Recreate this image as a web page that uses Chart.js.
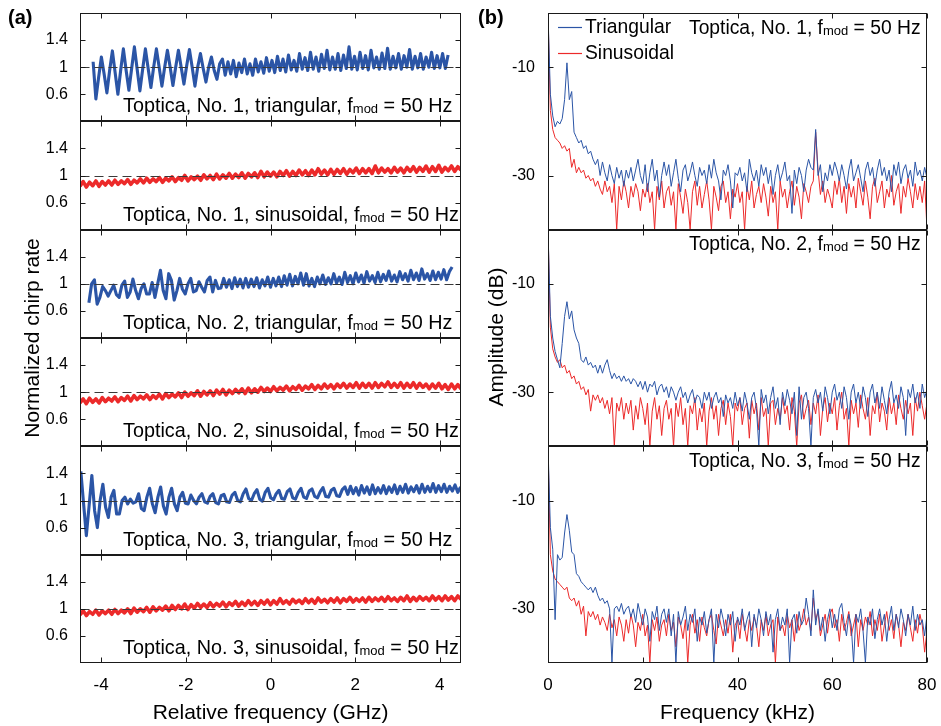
<!DOCTYPE html>
<html>
<head>
<meta charset="utf-8">
<title>Chirp rate and spectra</title>
<script src="https://cdn.jsdelivr.net/npm/chart.js@4.4.1/dist/chart.umd.min.js"></script>
<style>
  body { margin: 0; background: #fff; }
  #wrap { position: relative; width: 941px; height: 726px; }
  #left { position: absolute; left: 0; top: 0; width: 470px; height: 726px; }
  #right { position: absolute; left: 470px; top: 0; width: 471px; height: 726px; }
</style>
</head>
<body>
<div id="wrap">
  <canvas id="left" width="470" height="726"></canvas>
  <canvas id="right" width="471" height="726"></canvas>
</div>
<script>
const FONT = "'Liberation Sans', Arial, Helvetica, sans-serif";
const ink = '#1a1a1a';
const blue = '#2b55a6';
const red = '#ec2a2a';
const TICK = 5;

// ---- (a) normalized chirp rate vs relative frequency (GHz) ----
const xTicksGHz = [-4, -2, 0, 2, 4];
const yTicksChirp = [0.6, 1, 1.4];
const triStep = 0.065;
const sinStep = 0.075;

const tri1Start = -4.19;
const tri1 = [
  1.08, 0.53, 0.85, 1.15, 0.9, 0.62, 0.95, 1.24, 0.92, 0.6,
  0.95, 1.27, 0.95, 0.66, 0.98, 1.3, 0.97, 0.65, 0.97, 1.27,
  0.98, 0.7, 1.0, 1.27, 1.0, 0.72, 1.0, 1.25, 1.0, 0.73,
  1.0, 1.25, 1.0, 0.75, 1.02, 1.26, 1.0, 0.72, 1.0, 1.2,
  0.98, 0.78, 1.0, 1.15, 0.95, 0.82, 1.05, 1.12,
  0.88, 1.08, 0.9, 1.1, 0.86, 1.06, 0.92, 1.12, 0.9, 1.05,
  0.88, 1.12, 0.93, 1.08, 0.91, 1.14, 0.94, 1.1, 0.92, 1.16,
  0.95, 1.12, 0.93, 1.18, 0.96, 1.1, 0.94, 1.2, 0.97, 1.14,
  0.95, 1.22, 0.97, 1.15, 0.94, 1.19, 0.98, 1.25, 0.96, 1.15,
  0.97, 1.2, 0.95, 1.18, 0.98, 1.3, 0.97, 1.16, 0.96, 1.22,
  0.98, 1.17, 0.96, 1.25, 0.99, 1.15, 0.97, 1.21, 0.98, 1.28,
  0.97, 1.16, 0.99, 1.2, 0.97, 1.17, 1.0, 1.26, 0.97, 1.16,
  0.99, 1.2, 0.97, 1.15, 1.0, 1.22, 0.98, 1.17, 0.99, 1.2,
  0.98, 1.18
];

const sin1Start = -4.5;
const sin1 = [
  0.84, 0.91, 0.83, 0.9, 0.85, 0.92, 0.84, 0.91, 0.86, 0.92,
  0.86, 0.93, 0.87, 0.92, 0.88, 0.94, 0.87, 0.93, 0.89, 0.95,
  0.89, 0.96, 0.9, 0.95, 0.91, 0.97, 0.9, 0.96, 0.92, 0.98,
  0.91, 0.97, 0.93, 1.0, 0.92, 0.98, 0.94, 0.99, 0.93, 1.01,
  0.95, 1.0, 0.94, 1.02, 0.95, 1.01, 0.96, 1.03, 0.96, 1.02,
  0.97, 1.04, 0.96, 1.03, 0.98, 1.04, 0.97, 1.06, 0.98, 1.05,
  0.99, 1.05, 0.98, 1.06, 1.0, 1.07, 0.99, 1.06, 1.0, 1.08,
  1.01, 1.07, 1.0, 1.08, 1.01, 1.1, 1.02, 1.08, 1.01, 1.09,
  1.02, 1.09, 1.03, 1.1, 1.02, 1.09, 1.04, 1.11, 1.03, 1.1,
  1.04, 1.1, 1.03, 1.14, 1.04, 1.11, 1.05, 1.1, 1.04, 1.12,
  1.05, 1.11, 1.04, 1.12, 1.06, 1.13, 1.05, 1.12, 1.06, 1.14,
  1.05, 1.13, 1.06, 1.15, 1.05, 1.12, 1.07, 1.14, 1.06, 1.13, 1.08
];

const tri2Start = -4.29;
const tri2 = [
  0.72, 1.0, 1.06, 0.7, 0.8, 0.96, 0.9, 0.82, 0.9, 0.98,
  0.84, 0.8, 0.98, 1.04, 0.8, 0.88, 1.07, 0.9, 0.78, 0.93,
  1.0, 0.85, 0.85, 1.02, 0.8, 1.0, 1.2, 0.9, 0.78, 1.15,
  1.05, 0.76, 0.9, 1.08, 0.92, 0.85, 1.0, 1.08, 0.88, 0.9,
  1.03, 0.95, 0.88, 1.05, 1.1, 0.88, 1.05, 0.93,
  0.94, 1.08, 0.95, 1.06, 0.93, 1.09, 0.96, 1.07, 0.94, 1.08,
  0.95, 1.07, 0.96, 1.09, 0.94, 1.06, 0.97, 1.1, 0.95, 1.08,
  0.97, 1.1, 0.96, 1.12, 0.98, 1.14, 0.97, 1.11, 1.0, 1.16,
  0.98, 1.15, 0.97, 1.08, 0.96, 1.1, 1.0, 1.13, 0.99, 1.09,
  1.0, 1.15, 1.01, 1.1, 0.99, 1.17, 1.02, 1.12, 1.0, 1.16,
  1.03, 1.13, 1.01, 1.18, 1.04, 1.12, 1.02, 1.17, 1.03, 1.14,
  1.05, 1.19, 1.04, 1.13, 1.03, 1.18, 1.06, 1.15, 1.04, 1.2,
  1.06, 1.16, 1.05, 1.22, 1.07, 1.15, 1.05, 1.19, 1.06, 1.17,
  1.07, 1.21, 1.06, 1.18, 1.25
];

const sin2Start = -4.5;
const sin2 = [
  0.84, 0.9, 0.83, 0.91, 0.85, 0.9, 0.84, 0.92, 0.86, 0.91,
  0.87, 0.93, 0.86, 0.92, 0.88, 0.94, 0.87, 0.95, 0.89, 0.94,
  0.9, 0.96, 0.89, 0.95, 0.91, 0.97, 0.9, 0.98, 0.92, 0.97,
  0.93, 0.99, 0.92, 1.0, 0.94, 0.99, 0.95, 1.02, 0.94, 1.01,
  0.96, 1.02, 0.95, 1.03, 0.97, 1.04, 0.96, 1.03, 0.98, 1.04,
  0.99, 1.05, 0.98, 1.06, 0.99, 1.05, 1.0, 1.07, 1.01, 1.06,
  1.01, 1.08, 1.02, 1.07, 1.03, 1.09, 1.02, 1.08, 1.04, 1.1,
  1.03, 1.09, 1.05, 1.11, 1.04, 1.1, 1.05, 1.12, 1.06, 1.11,
  1.05, 1.12, 1.07, 1.13, 1.06, 1.12, 1.07, 1.14, 1.06, 1.13,
  1.07, 1.13, 1.06, 1.14, 1.07, 1.13, 1.08, 1.15, 1.07, 1.13,
  1.07, 1.14, 1.06, 1.13, 1.07, 1.14, 1.06, 1.13, 1.07, 1.12,
  1.05, 1.12, 1.06, 1.13, 1.05, 1.11, 1.04, 1.12, 1.05, 1.11, 1.05
];

const tri3Start = -4.48;
const tri3 = [
  1.43, 0.95, 0.48, 0.92, 1.37, 0.85, 0.6, 1.0, 1.24, 0.9,
  0.75, 1.05, 1.15, 0.8, 0.8, 1.0, 1.05, 0.95, 1.02, 0.96,
  0.98, 1.1, 0.88, 0.85, 1.05, 1.18, 0.95, 0.82, 1.05, 1.2,
  0.92, 0.8, 1.05, 1.18, 0.95, 0.85, 1.05, 1.12, 0.96, 0.95,
  1.08,
  1.0, 0.95, 1.05, 1.1, 0.98, 0.96, 1.06, 1.1, 0.97, 0.95,
  1.07, 1.09, 0.98, 0.97, 1.08, 1.12,
  1.0, 0.98, 1.1, 1.17, 1.03, 1.0, 1.1, 1.16, 1.02, 0.99,
  1.12, 1.18, 1.04, 1.01, 1.1, 1.15, 1.03, 1.02, 1.13, 1.17,
  1.04, 1.02, 1.12, 1.18, 1.05, 1.03, 1.14, 1.17, 1.06, 1.04,
  1.13, 1.19, 1.06, 1.05, 1.15, 1.18, 1.07, 1.06, 1.16, 1.2,
  1.09, 1.21, 1.1, 1.19, 1.08, 1.22, 1.11, 1.2, 1.09, 1.23,
  1.1, 1.19, 1.11, 1.22, 1.1, 1.2, 1.12, 1.23, 1.1, 1.21,
  1.12, 1.24, 1.11, 1.2, 1.13, 1.22, 1.11, 1.24, 1.12, 1.21,
  1.13, 1.25, 1.12, 1.22, 1.13, 1.24, 1.12, 1.21, 1.14, 1.23,
  1.12, 1.2
];

const sin3Start = -4.5;
const sin3 = [
  0.91, 0.97, 0.9, 0.96, 0.92, 0.98, 0.91, 0.97, 0.93, 0.98,
  0.92, 0.99, 0.93, 0.98, 0.94, 1.0, 0.93, 1.01, 0.95, 1.0,
  0.96, 1.02, 0.95, 1.03, 0.97, 1.02, 0.98, 1.04, 0.97, 1.05,
  0.99, 1.05, 1.0, 1.07, 0.99, 1.06, 1.01, 1.08, 1.02, 1.07,
  1.02, 1.09, 1.03, 1.08, 1.04, 1.1, 1.03, 1.09, 1.05, 1.11,
  1.04, 1.1, 1.05, 1.12, 1.06, 1.11, 1.05, 1.12, 1.07, 1.13,
  1.06, 1.12, 1.07, 1.15, 1.08, 1.12, 1.07, 1.14, 1.09, 1.13,
  1.08, 1.15, 1.09, 1.14, 1.08, 1.16, 1.1, 1.14, 1.09, 1.15,
  1.1, 1.16, 1.09, 1.15, 1.11, 1.17, 1.1, 1.15, 1.11, 1.16,
  1.1, 1.17, 1.11, 1.16, 1.12, 1.17, 1.11, 1.18, 1.12, 1.16,
  1.11, 1.17, 1.12, 1.19, 1.11, 1.17, 1.12, 1.18, 1.13, 1.17,
  1.12, 1.19, 1.13, 1.18, 1.12, 1.19, 1.13, 1.18, 1.12, 1.19, 1.14
];

const chirpNotes = [
  'Toptica, No. 1, triangular', 'Toptica, No. 1, sinusoidal',
  'Toptica, No. 2, triangular', 'Toptica, No. 2, sinusoidal',
  'Toptica, No. 3, triangular', 'Toptica, No. 3, sinusoidal'
];

// ---- (b) amplitude spectra (dB), 0.5 kHz bins from 0 to 80 kHz ----
const xTicksKHz = [0, 20, 40, 60, 80];
const yTicksDB = [-10, -30];
const specStep = 0.5;

const specTri1 = [
  0, -15, -19, -21, -20, -20.5, -19.5, -16, -9.2, -16,
  -14.5, -22, -23, -24, -23.5, -25, -24.5, -26, -25.5, -27,
  -28, -27, -30, -27.5, -29.5, -31, -28, -30, -31.5, -28.5,
  -30.5, -29, -32, -29, -30.5, -28.5, -31, -29, -27, -30,
  -31.5, -28, -33, -29.5, -27, -31, -29, -34, -30, -27.5,
  -30, -28, -32, -29.5, -27, -30.5, -33, -29, -28, -31,
  -29.5, -27.5, -30, -32, -28.5, -30, -29, -31.5, -28, -30.5,
  -27, -29.5, -31, -34.5, -29, -30, -28, -31, -36, -29.5,
  -30, -28.5, -31, -29.5, -33, -27, -29.5, -31, -29, -32,
  -28, -30, -28.5, -31.5, -29, -33.5, -30, -28, -31, -29.5,
  -27.5, -31, -30, -37, -29, -31.5, -28.5, -30, -33, -29,
  -27, -28.5, -29, -21.5, -30, -28, -33, -29.5, -31, -28,
  -30, -27.5, -29, -31, -28, -30, -32.5, -29, -27, -31,
  -29.5, -28, -30.5, -33, -29, -27.5, -30, -28.5, -32, -29,
  -27, -30, -28.5, -31, -29, -33, -28, -30, -27.5, -31.5,
  -29, -28, -30.5, -29, -32, -27.5, -30, -29, -31, -28.5,
  -30.5
];
const specSin1 = [
  0, -18, -21.5, -23, -23.5, -24, -25, -24.5, -25.5, -25,
  -28.5, -27, -29.5, -28.5, -29.5, -29, -30.5, -30, -31, -30.5,
  -32, -31, -32.5, -33.5, -31, -33, -32, -35, -31.5, -40,
  -32, -34.5, -31, -33, -36, -32, -34, -31.5, -33, -36.5,
  -32.5, -34, -31.5, -35, -33, -40, -32, -34.5, -31, -36,
  -33, -32, -35.5, -33, -40, -31.5, -34, -37, -32.5, -35,
  -40, -33, -31, -35.5, -32, -36, -33.5, -31, -34.5, -40,
  -32, -34, -36.5, -32, -31, -35, -33, -38, -32.5, -34,
  -31.5, -35, -33, -40, -32, -34.5, -31, -36, -33.5, -32,
  -35, -31.5, -34, -37.5, -32, -35, -33, -40, -31, -34,
  -32.5, -36, -33, -31, -35.5, -32, -34, -38, -31.5, -33,
  -35, -32, -31, -22, -29, -33.5, -31, -35, -32.5, -34,
  -36, -31, -33.5, -30.5, -35, -32, -37, -31.5, -34, -32,
  -36, -30.5, -33, -35.5, -31, -34, -38, -32, -30.5, -35,
  -33, -31, -36, -32.5, -34, -30, -35.5, -33, -31.5, -37,
  -32, -34, -30.5, -33, -36, -31.5, -34.5, -32, -35, -31,
  -40
];
const specTri2 = [
  0, -16, -20, -22.5, -24, -25.5, -21, -16, -13.3, -16.5,
  -15, -18.5, -20, -21, -24, -24.5, -23.5, -25, -24.5, -25.5,
  -25, -26.5, -25, -26.5, -25, -24, -26, -27.5, -26.5, -27.5,
  -27, -28, -27, -28, -27.5, -28.5, -27.5, -28, -29, -28,
  -29.5, -28, -30, -28.5, -29, -28, -30.5, -29, -28.5, -30,
  -29, -31, -29, -30, -31.5, -30, -29, -31, -30, -32,
  -30.5, -29.5, -32, -30.5, -31, -33, -30, -31.5, -30, -33,
  -31, -30, -32, -31, -34.5, -30.5, -32, -31, -33, -30,
  -32.5, -31, -33.5, -30, -32, -35, -31, -30, -33, -40,
  -29.5, -32, -30.5, -34, -31, -29, -33, -31, -36, -30,
  -32.5, -29.5, -31.5, -34, -30, -38, -29, -35, -31, -30,
  -33, -40, -31, -29.5, -32, -30, -33.5, -29, -31, -34,
  -30, -28.5, -31.5, -30, -33, -29, -31, -35, -30, -28.5,
  -32, -30, -33, -29, -31, -34.5, -30, -28.5, -32, -30,
  -33, -29, -31.5, -34, -30, -28, -32, -30.5, -33, -29,
  -31, -38, -29.5, -31, -28.5, -32, -30, -33, -28.5, -31,
  -29.5
];
const specSin2 = [
  0, -18, -22, -23.5, -24.5, -24, -25.5, -25, -26.5, -26,
  -27.5, -27, -28.5, -28, -29.5, -29, -30.5, -29.5, -33.5, -30.5,
  -31.5, -30.5, -32, -31, -33, -31.5, -34, -31, -40, -32,
  -33.5, -31, -35, -32, -34, -31.5, -37, -32.5, -35, -31,
  -33, -36, -32, -40, -33.5, -31, -35, -32.5, -38, -33,
  -31.5, -35, -33, -40, -32, -34.5, -31, -36, -33, -40,
  -32.5, -34, -31, -37, -33, -35.5, -32, -40, -33.5, -31,
  -35, -32.5, -38, -33, -31.5, -36, -32, -34.5, -40, -32,
  -33.5, -31, -36, -33, -32, -38.5, -31.5, -34, -32, -37,
  -31, -34.5, -33, -40, -32, -31.5, -36, -33, -35, -31,
  -34, -32.5, -37, -31, -33.5, -40, -32, -30.5, -35, -33,
  -31.5, -36, -32, -34, -30.5, -38, -33, -31, -35.5, -32,
  -34, -31, -37, -32.5, -30, -35, -33, -40, -31.5, -34,
  -32, -36.5, -30.5, -33, -35, -31, -38, -32.5, -34, -30,
  -35.5, -32, -33.5, -37, -31, -34, -32, -36, -30.5, -33,
  -35, -31.5, -34, -32, -38, -31, -33.5, -30, -32.5, -35,
  -32
];
const specTri3 = [
  0, -15, -19, -32, -20, -21, -20.5, -16, -12.6, -15.5,
  -19.5, -20, -23.5, -24, -25, -25.5, -26, -26.5, -26, -27,
  -26, -27.5, -28.5, -28, -29, -28.5, -30, -40, -30, -29.5,
  -30.5, -29, -31, -30, -29.5, -31.5, -30, -32.5, -29, -31,
  -33, -30, -31.5, -36, -30.5, -32, -29.5, -34, -31, -30,
  -32.5, -30, -35, -31, -40, -30.5, -33, -31.5, -29.5, -34,
  -31, -32.5, -30, -36, -31.5, -33, -30.5, -34.5, -32, -30,
  -40, -31, -33.5, -30, -32, -35, -31, -33, -30.5, -36,
  -31.5, -33, -30, -34, -32, -30.5, -37, -31, -33.5, -30,
  -32, -35, -30.5, -33, -31, -38, -32, -30, -34, -31.5,
  -33, -30, -40, -32, -31, -34.5, -30.5, -33, -32, -28,
  -31, -35, -26.5, -33, -30, -34, -31.5, -36, -32, -30,
  -33.5, -31, -34, -30, -29, -32.5, -35, -31, -33, -40,
  -31, -32.5, -30, -34, -40, -31.5, -33, -30, -35.5, -32,
  -30, -33, -31, -36, -32, -29.5, -34, -31, -33.5, -30,
  -32, -35, -31, -33, -29.5, -34, -31, -33, -32, -35,
  -31
];
const specSin3 = [
  0, -20, -23, -24.5, -25, -25.5, -26, -26.5, -26, -28,
  -28.5, -28, -29.5, -28.5, -31, -29.5, -35, -30.5, -31.5, -30.5,
  -32, -31, -33, -31.5, -32.5, -34, -31, -33.5, -32, -35,
  -31.5, -33, -36, -32, -34.5, -31, -33, -37, -32.5, -34,
  -31, -35, -33, -40, -32, -34, -31.5, -36, -33, -32,
  -35, -31, -34, -32.5, -37, -31.5, -33, -35.5, -32, -40,
  -33, -31, -34.5, -32, -36, -31.5, -33.5, -35, -32, -31,
  -34, -36.5, -31, -33, -35, -32, -34.5, -31, -38, -33,
  -32, -35.5, -31, -33.5, -36, -32, -34, -31.5, -33, -37,
  -32, -34, -31, -35, -33, -32, -40, -31.5, -34, -33,
  -35, -31, -33.5, -32, -36, -31, -34, -32.5, -30, -33,
  -31.5, -34, -28, -32, -30.5, -35, -33, -31, -34.5, -31,
  -30, -33.5, -32, -36, -31, -34, -32.5, -30.5, -35, -33,
  -31, -37, -32, -34, -31.5, -33, -30.5, -35, -32, -34,
  -31, -36, -33, -30.5, -34, -32, -35.5, -31, -33, -37,
  -32.5, -34, -31, -33.5, -36, -32, -34.5, -31, -33, -38,
  -34
];

const specNotes = ['Toptica, No. 1', 'Toptica, No. 2', 'Toptica, No. 3'];
const legendLabels = ['Triangular', 'Sinusoidal'];

// turn a uniformly sampled trace into {x, y} points
const toPoints = (x0, dx, vals) => vals.map((v, i) => ({ x: +(x0 + i * dx).toFixed(3), y: v }));

// "<head>, f_mod = 50 Hz" with a small "mod"
function drawNote(ctx, head, x, base, size) {
  const big = size + 'px ' + FONT;
  const small = Math.round(size * 0.65) + 'px ' + FONT;
  ctx.textAlign = 'left';
  ctx.textBaseline = 'alphabetic';
  ctx.fillStyle = '#000';
  ctx.font = big;
  ctx.fillText(head + ', f', x, base);
  x += ctx.measureText(head + ', f').width;
  ctx.font = small;
  ctx.fillText('mod', x, base + 1);
  x += ctx.measureText('mod').width;
  ctx.font = big;
  ctx.fillText(' = 50 Hz', x, base);
}

// box, inward ticks and optional dashed reference for each stacked panel
const framePlugin = {
  id: 'frame',
  afterDatasetsDraw(chart, args, opts) {
    const ctx = chart.ctx;
    const xs = chart.scales.x;
    const L = Math.round(chart.chartArea.left) + 0.5;
    const R = Math.round(chart.chartArea.right) - 0.5;
    ctx.save();
    opts.axes.forEach(id => {
      const ys = chart.scales[id];
      const T = Math.round(ys.top) + 0.5;
      const B = Math.round(ys.bottom) - 0.5;
      if (opts.refLine !== undefined) {
        const y = Math.round(ys.getPixelForValue(opts.refLine)) + 0.5;
        ctx.strokeStyle = '#3a3a3a';
        ctx.lineWidth = 1;
        ctx.setLineDash([9, 5]);
        ctx.beginPath();
        ctx.moveTo(L, y);
        ctx.lineTo(R, y);
        ctx.stroke();
        ctx.setLineDash([]);
      }
      ctx.strokeStyle = ink;
      ctx.lineWidth = 1;
      ctx.strokeRect(L, T, R - L, B - T);
      ctx.beginPath();
      xs.ticks.forEach(t => {
        const x = Math.round(xs.getPixelForValue(t.value)) + 0.5;
        ctx.moveTo(x, T); ctx.lineTo(x, T + TICK);
        ctx.moveTo(x, B); ctx.lineTo(x, B - TICK);
      });
      ys.ticks.forEach(t => {
        const y = Math.round(ys.getPixelForValue(t.value)) + 0.5;
        ctx.moveTo(L, y); ctx.lineTo(L + TICK, y);
        ctx.moveTo(R, y); ctx.lineTo(R - TICK, y);
      });
      ctx.stroke();
    });
    ctx.restore();
  },
  afterDraw(chart, args, opts) {
    const ctx = chart.ctx;
    ctx.save();
    opts.axes.forEach((id, k) => {
      const ys = chart.scales[id];
      const base = opts.noteFromTop ? ys.top + opts.noteOffset : ys.bottom - opts.noteOffset;
      drawNote(ctx, opts.notes[k], opts.noteX, base, opts.noteSize);
    });
    // panel letter
    ctx.font = 'bold 20px ' + FONT;
    ctx.fillStyle = '#000';
    ctx.textAlign = 'left';
    ctx.textBaseline = 'middle';
    ctx.fillText(opts.letter, 8, 18);
    // rotated y title
    ctx.translate(opts.yTitleX, opts.yTitleY);
    ctx.rotate(-Math.PI / 2);
    ctx.font = '21px ' + FONT;
    ctx.textAlign = 'center';
    ctx.textBaseline = 'alphabetic';
    ctx.fillText(opts.yTitle, 0, 0);
    ctx.restore();
  }
};

// legend for the spectra, drawn inside the first panel with each series' own colour
const legendPlugin = {
  id: 'specLegend',
  afterDraw(chart) {
    const ctx = chart.ctx;
    const ys = chart.scales.s0;
    const sets = chart.data.datasets;
    const swatch = [sets[0].borderColor, sets[sets.length - 1].borderColor];
    ctx.save();
    ctx.font = '19.3px ' + FONT;
    ctx.textAlign = 'left';
    ctx.textBaseline = 'middle';
    legendLabels.forEach((label, k) => {
      const y = Math.round(ys.top + 13.5 + k * 26.6) + 0.5;
      ctx.beginPath();
      ctx.strokeStyle = swatch[k];
      ctx.lineWidth = 1.2;
      ctx.moveTo(88, y);
      ctx.lineTo(112, y);
      ctx.stroke();
      ctx.fillStyle = '#000';
      ctx.fillText(label, 115, y);
    });
    ctx.restore();
  }
};

const tickFont = size => ({ size: size, family: FONT });
const noGrid = { display: false, drawTicks: false };
const plainLabel = v => String(v);

function xScale(min, max, ticks, title) {
  return {
    type: 'linear', min: min, max: max, position: 'bottom',
    afterBuildTicks: s => { s.ticks = ticks.map(v => ({ value: v })); },
    afterFit: s => { s.height = 63; s.paddingLeft = 0; s.paddingRight = 0; },
    grid: noGrid, border: { display: false },
    ticks: { font: tickFont(17), color: '#000', padding: 12, maxRotation: 0, callback: plainLabel },
    title: { display: true, text: title, font: tickFont(21), color: '#000', padding: { top: 2, bottom: 0 } }
  };
}

function yScale(min, max, ticks, order, width, pad) {
  return {
    type: 'linear', min: min, max: max, position: 'left',
    stack: 'panels', stackWeight: 1, weight: 20 - order,
    afterBuildTicks: s => { s.ticks = ticks.map(v => ({ value: v })); },
    afterFit: s => { s.width = width; s.paddingTop = 0; s.paddingBottom = 0; },
    grid: noGrid, border: { display: false },
    ticks: { font: tickFont(16), color: '#000', padding: pad, callback: plainLabel }
  };
}

// ---- left column ----
const chirpSeries = [
  { vals: tri1, x0: tri1Start, dx: triStep, color: blue, width: 3.1 },
  { vals: sin1, x0: sin1Start, dx: sinStep, color: red, width: 3.6 },
  { vals: tri2, x0: tri2Start, dx: triStep, color: blue, width: 3.1 },
  { vals: sin2, x0: sin2Start, dx: sinStep, color: red, width: 3.6 },
  { vals: tri3, x0: tri3Start, dx: triStep, color: blue, width: 3.1 },
  { vals: sin3, x0: sin3Start, dx: sinStep, color: red, width: 3.6 }
];
const leftScales = { x: xScale(-4.5, 4.5, xTicksGHz, 'Relative frequency (GHz)') };
const leftAxes = [];
chirpSeries.forEach((s, i) => {
  leftScales['c' + i] = yScale(0.2, 1.8, yTicksChirp, i, 80, 12);
  leftAxes.push('c' + i);
});

new Chart(document.getElementById('left'), {
  type: 'line',
  data: {
    datasets: chirpSeries.map((s, i) => ({
      data: toPoints(s.x0, s.dx, s.vals),
      yAxisID: 'c' + i, xAxisID: 'x',
      borderColor: s.color, borderWidth: s.width, borderJoinStyle: 'round',
      pointRadius: 0, tension: 0, fill: false
    }))
  },
  options: {
    responsive: false, animation: false, devicePixelRatio: 1, events: [],
    layout: { padding: { top: 13, right: 9, left: 0, bottom: 0 } },
    scales: leftScales,
    plugins: {
      legend: { display: false }, tooltip: { enabled: false },
      frame: {
        axes: leftAxes, refLine: 1, notes: chirpNotes, noteX: 123, noteOffset: 9,
        noteFromTop: false, noteSize: 19.8, letter: '(a)',
        yTitle: 'Normalized chirp rate', yTitleX: 38.5, yTitleY: 338
      }
    }
  },
  plugins: [framePlugin]
});

// ---- right column ----
const specPairs = [[specTri1, specSin1], [specTri2, specSin2], [specTri3, specSin3]];
const rightScales = { x: xScale(0, 80, xTicksKHz, 'Frequency (kHz)') };
const rightAxes = [];
specPairs.forEach((p, i) => {
  rightScales['s' + i] = yScale(-40, 0, yTicksDB, i, 78, 13);
  rightAxes.push('s' + i);
});
const specSets = [];
specPairs.forEach((p, i) => {
  specSets.push({ data: toPoints(0, specStep, p[0]), yAxisID: 's' + i, xAxisID: 'x',
    borderColor: blue, borderWidth: 1, pointRadius: 0, tension: 0, fill: false });
});
specPairs.forEach((p, i) => {
  specSets.push({ data: toPoints(0, specStep, p[1]), yAxisID: 's' + i, xAxisID: 'x',
    borderColor: red, borderWidth: 1, pointRadius: 0, tension: 0, fill: false });
});

new Chart(document.getElementById('right'), {
  type: 'line',
  data: { datasets: specSets },
  options: {
    responsive: false, animation: false, devicePixelRatio: 1, events: [],
    layout: { padding: { top: 13, right: 14, left: 0, bottom: 0 } },
    scales: rightScales,
    plugins: {
      legend: { display: false }, tooltip: { enabled: false },
      frame: {
        axes: rightAxes, notes: specNotes, noteX: 219, noteOffset: 20.5,
        noteFromTop: true, noteSize: 19.3, letter: '(b)',
        yTitle: 'Amplitude (dB)', yTitleX: 33, yTitleY: 337
      }
    }
  },
  plugins: [framePlugin, legendPlugin]
});
</script>
</body>
</html>
